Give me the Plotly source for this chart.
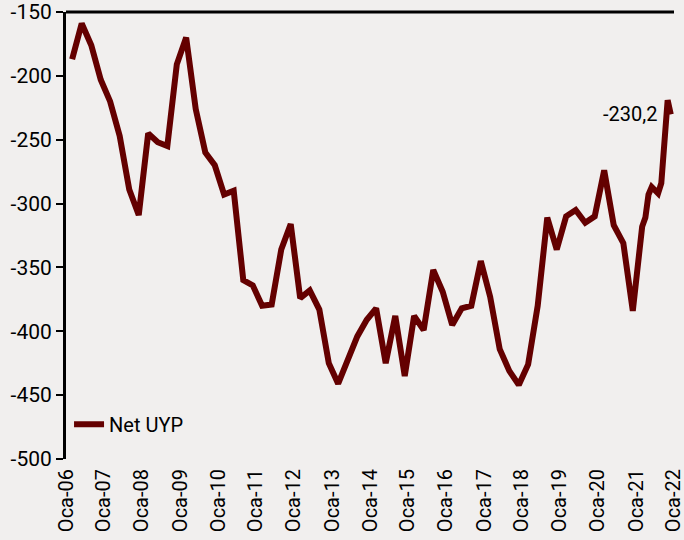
import plotly.graph_objects as go

dates = [
    "2006-03-01", "2006-06-01", "2006-09-01", "2006-12-01",
    "2007-03-01", "2007-06-01", "2007-09-01", "2007-12-01",
    "2008-03-01", "2008-06-01", "2008-09-01", "2008-12-01",
    "2009-03-01", "2009-06-01", "2009-09-01", "2009-12-01",
    "2010-03-01", "2010-06-01", "2010-09-01", "2010-12-01",
    "2011-03-01", "2011-06-01", "2011-09-01", "2011-12-01",
    "2012-03-01", "2012-06-01", "2012-09-01", "2012-12-01",
    "2013-03-01", "2013-06-01", "2013-09-01", "2013-12-01",
    "2014-03-01", "2014-06-01", "2014-09-01", "2014-12-01",
    "2015-03-01", "2015-06-01", "2015-09-01", "2015-12-01",
    "2016-03-01", "2016-06-01", "2016-09-01", "2016-12-01",
    "2017-03-01", "2017-06-01", "2017-09-01", "2017-12-01",
    "2018-03-01", "2018-06-01", "2018-09-01", "2018-12-01",
    "2019-03-01", "2019-06-01", "2019-09-01", "2019-12-01",
    "2020-03-01", "2020-06-01", "2020-09-01", "2020-12-01",
    "2021-03-01", "2021-04-01", "2021-05-01", "2021-06-01",
    "2021-08-01", "2021-09-01", "2021-11-01", "2021-12-01",
]
net_uyp = [
    -187, -159, -176, -203,
    -220, -247, -289, -309,
    -245, -252, -255, -191,
    -170, -226, -260, -270,
    -293, -290, -360, -364,
    -380, -379, -336, -316,
    -374, -368, -383, -425,
    -441, -421, -404, -391,
    -382, -425, -388, -435,
    -388, -399, -352, -369,
    -395, -382, -380, -345,
    -373, -414, -431, -442,
    -426, -380, -311, -336,
    -310, -305, -315, -310,
    -274, -317, -331, -384,
    -318, -311, -293, -287,
    -292, -284, -219, -230.2,
]
tick_vals = [f"{y}-01-01" for y in range(2006, 2023)]
tick_text = [f"Oca-{y % 100:02d}" for y in range(2006, 2023)]
y_ticks = [-500, -450, -400, -350, -300, -250, -200, -150]
y_tick_text = ["-500", "-450", "-400", "-350", "-300", "-250", "-200", "-150"]
last_label = "-230,2"

FONT = "Roboto, sans-serif"
LINE = "#640000"
BG = "#F1EFEE"

fig = go.Figure()
fig.add_trace(go.Scatter(
    x=dates, y=net_uyp, mode="lines", name="Net UYP",
    line=dict(color=LINE, width=6, shape="linear"),
    cliponaxis=False,
))

fig.add_annotation(
    x=dates[-1], y=net_uyp[-1], text=last_label, showarrow=False,
    xanchor="right", yanchor="middle", xshift=-12,
    font=dict(family=FONT, size=20, color="#000000"),
)

# x-axis line crosses at the top (-150)
fig.add_shape(type="line", xref="paper", yref="paper", x0=0, x1=1, y0=1, y1=1,
              line=dict(color="#000000", width=3))

fig.update_layout(
    width=684, height=540,
    margin=dict(l=66, r=10, t=12, b=81),
    paper_bgcolor=BG, plot_bgcolor=BG,
    font=dict(family=FONT, size=20, color="#000000"),
    showlegend=True,
    legend=dict(x=0.005, y=0.078, xanchor="left", yanchor="middle",
                bgcolor="rgba(0,0,0,0)", font=dict(family=FONT, size=20),
                itemwidth=30),
    xaxis=dict(
        type="date", range=["2006-01-01", "2022-01-01 02:00"],
        tickvals=tick_vals, ticktext=tick_text, tickangle=-90,
        showgrid=False, zeroline=False, showline=False, ticks="",
        ticklabelstandoff=5, automargin=False, ticklabeloverflow="allow",
    ),
    yaxis=dict(
        range=[-500, -150], tickvals=y_ticks, ticktext=y_tick_text,
        showgrid=False, zeroline=False,
        showline=True, linecolor="#000000", linewidth=3,
        ticks="outside", ticklen=7, tickwidth=2, tickcolor="#000000",
        automargin=False, tickfont=dict(size=21),
    ),
)

fig.write_html(
    "out.html",
    config={"displayModeBar": False},
    post_script="document.body.style.margin='0';document.body.style.overflow='hidden';",
)
